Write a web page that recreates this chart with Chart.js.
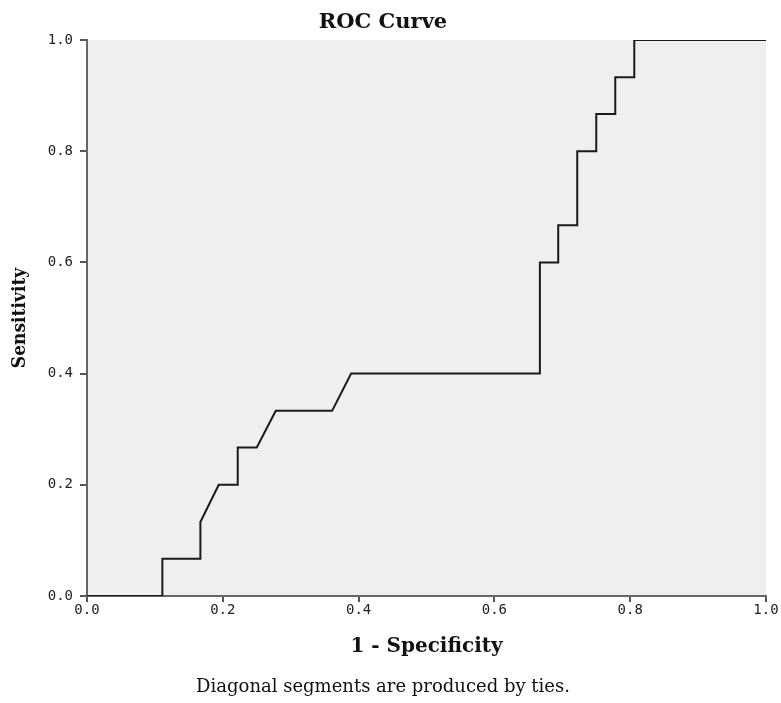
<!DOCTYPE html>
<html>
<head>
<meta charset="utf-8">
<script src="https://cdn.jsdelivr.net/npm/chart.js@4"></script>
<style>
  html, body { margin: 0; padding: 0; background: #fff; }
  #wrap { width: 781px; height: 703px; }
</style>
</head>
<body>
<div id="wrap"><canvas id="roc"></canvas></div>
<script>
// ROC curve points (1 - specificity, sensitivity)
const fpr = [0, 0.111, 0.111, 0.167, 0.167, 0.194, 0.222, 0.222, 0.25, 0.278, 0.361, 0.389, 0.667, 0.667, 0.694, 0.694, 0.722, 0.722, 0.75, 0.75, 0.778, 0.778, 0.806, 0.806, 1.0];
const tpr = [0, 0, 0.067, 0.067, 0.133, 0.2, 0.2, 0.267, 0.267, 0.333, 0.333, 0.4, 0.4, 0.6, 0.6, 0.667, 0.667, 0.8, 0.8, 0.867, 0.867, 0.933, 0.933, 1.0, 1.0];
const tickValues = [0, 0.2, 0.4, 0.6, 0.8, 1.0];

const points = fpr.map((x, i) => ({x: x, y: tpr[i]}));

// grey plot background
const plotBg = {
  id: 'plotBg',
  beforeDraw(chart) {
    const {ctx, chartArea: a} = chart;
    ctx.save();
    ctx.fillStyle = '#efefef';
    ctx.fillRect(a.left, a.top, a.right - a.left, a.bottom - a.top);
    ctx.restore();
  }
};

const ctx1 = document.getElementById('roc');

new Chart(ctx1, {
  type: 'scatter',
  data: {
    datasets: [{
      label: 'ROC',
      data: points,
      showLine: true,
      borderColor: '#1a1a1a',
      borderWidth: 2,
      pointRadius: 0,
      tension: 0,
      fill: false
    }]
  },
  options: {
    responsive: true,
    maintainAspectRatio: false,
    animation: false,
    layout: { padding: { left: 0, right: 15, top: 0, bottom: 0 } },
    plugins: {
      legend: { display: false },
      tooltip: { enabled: false },
      title: {
        display: true,
        text: 'ROC Curve',
        color: '#111',
        font: { family: 'DejaVu Serif', size: 21, weight: 'bold', lineHeight: 1.25 },
        padding: { top: 9, bottom: 4.75 }
      },
      subtitle: {
        display: true,
        position: 'bottom',
        text: 'Diagonal segments are produced by ties.',
        color: '#111',
        font: { family: 'DejaVu Serif', size: 18, lineHeight: 1.25 },
        padding: { top: 4, bottom: 4.5 }
      }
    },
    scales: {
      x: {
        type: 'linear',
        min: 0,
        max: 1,
        afterBuildTicks(scale) { scale.ticks = tickValues.map(v => ({value: v})); },
        afterFit(scale) { scale.height = 76; },
        border: { display: true, color: '#666', width: 2 },
        grid: { drawOnChartArea: false, drawTicks: true, tickLength: 6, color: '#555', lineWidth: 2 },
        ticks: {
          color: '#222',
          padding: 0,
          maxRotation: 0,
          font: { family: 'DejaVu Sans Mono', size: 14 },
          callback: v => v.toFixed(1)
        },
        title: {
          display: true,
          text: '1 - Specificity',
          color: '#111',
          font: { family: 'DejaVu Serif', size: 20, weight: 'bold', lineHeight: 1.25 },
          padding: { top: 0, bottom: 12.5 }
        }
      },
      y: {
        type: 'linear',
        min: 0,
        max: 1,
        afterBuildTicks(scale) { scale.ticks = tickValues.map(v => ({value: v})); },
        afterFit(scale) { scale.width = 87; },
        border: { display: true, color: '#666', width: 2 },
        grid: { drawOnChartArea: false, drawTicks: true, tickLength: 7, color: '#555', lineWidth: 2 },
        ticks: {
          color: '#222',
          padding: 7,
          font: { family: 'DejaVu Sans Mono', size: 14 },
          callback: v => v.toFixed(1)
        },
        title: {
          display: true,
          text: 'Sensitivity',
          color: '#111',
          font: { family: "'DejaVu Serif Condensed', 'Liberation Serif'", size: 19, weight: 'bold', lineHeight: 1.25 },
          padding: { top: 8, bottom: 0 }
        }
      }
    }
  },
  plugins: [plotBg]
});
</script>
</body>
</html>
